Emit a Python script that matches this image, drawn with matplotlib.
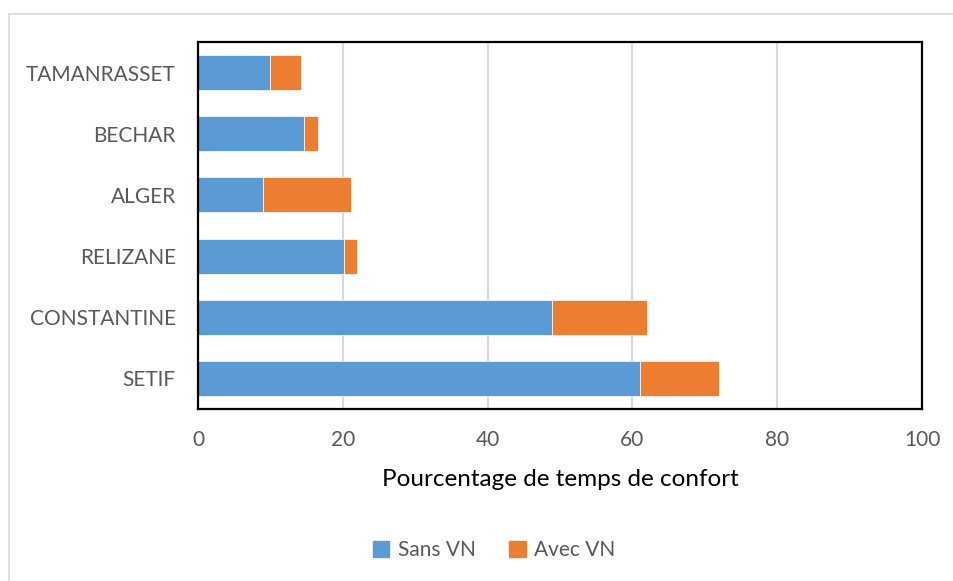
import matplotlib
matplotlib.use("Agg")
import matplotlib.pyplot as plt
from matplotlib.patches import Rectangle, Patch

plt.rcParams['font.family'] = ['Lato', 'DejaVu Sans']

cities = ["SETIF", "CONSTANTINE", "RELIZANE", "ALGER", "BECHAR", "TAMANRASSET"]
sans_vn = [61.1, 48.9, 20.2, 9.0, 14.7, 10.0]
avec_vn_total = [72.0, 62.0, 22.0, 21.1, 16.6, 14.2]
avec_vn = [t - s for t, s in zip(avec_vn_total, sans_vn)]
xticks = [0, 20, 40, 60, 80, 100]

blue = "#5b9bd5"
orange = "#ed7d31"
text_gray = "#595959"

fig = plt.figure(figsize=(9.54, 5.81), dpi=100)
fig.patches.append(Rectangle((9 / 954, -0.05), 1.0, 1.05 - 14 / 581, transform=fig.transFigure,
                             fill=False, edgecolor="#d9d9d9", linewidth=1.2))

ax = fig.add_axes([198 / 954, 1 - 409 / 581, 724 / 954, 367 / 581])
y = range(len(cities))
ax.barh(y, sans_vn, height=0.57, color=blue, edgecolor="white", linewidth=0.5,
        label="Sans VN", zorder=3)
ax.barh(y, avec_vn, left=sans_vn, height=0.57, color=orange, edgecolor="white",
        linewidth=0.5, label="Avec VN", zorder=3)

ax.set_xlim(0, 100)
ax.set_ylim(-0.5, len(cities) - 0.5)
ax.set_xticks(xticks)
ax.set_yticks(list(y))
ax.set_yticklabels(cities)
ax.tick_params(axis="both", length=0, labelsize=15, colors=text_gray)
ax.tick_params(axis="y", pad=16)
ax.tick_params(axis="x", pad=15)
ax.xaxis.grid(True, color="#d9d9d9", linewidth=1.5, zorder=0)
ax.set_axisbelow(True)
for s in ax.spines.values():
    s.set_color("black")
    s.set_linewidth(1.6)
    s.set_zorder(4)

ax.set_xlabel("Pourcentage de temps de confort", fontsize=17.5, color="black", labelpad=14)

handles = [Patch(color=blue, label="Sans VN"), Patch(color=orange, label="Avec VN")]
fig.legend(handles=handles, loc="center", bbox_to_anchor=(494 / 954, 1 - 550 / 581),
           ncol=2, frameon=False, fontsize=15, labelcolor=text_gray,
           handlelength=0.8, handleheight=0.8, handletextpad=0.4, columnspacing=1.6)

fig.savefig("out.png", dpi=100)
